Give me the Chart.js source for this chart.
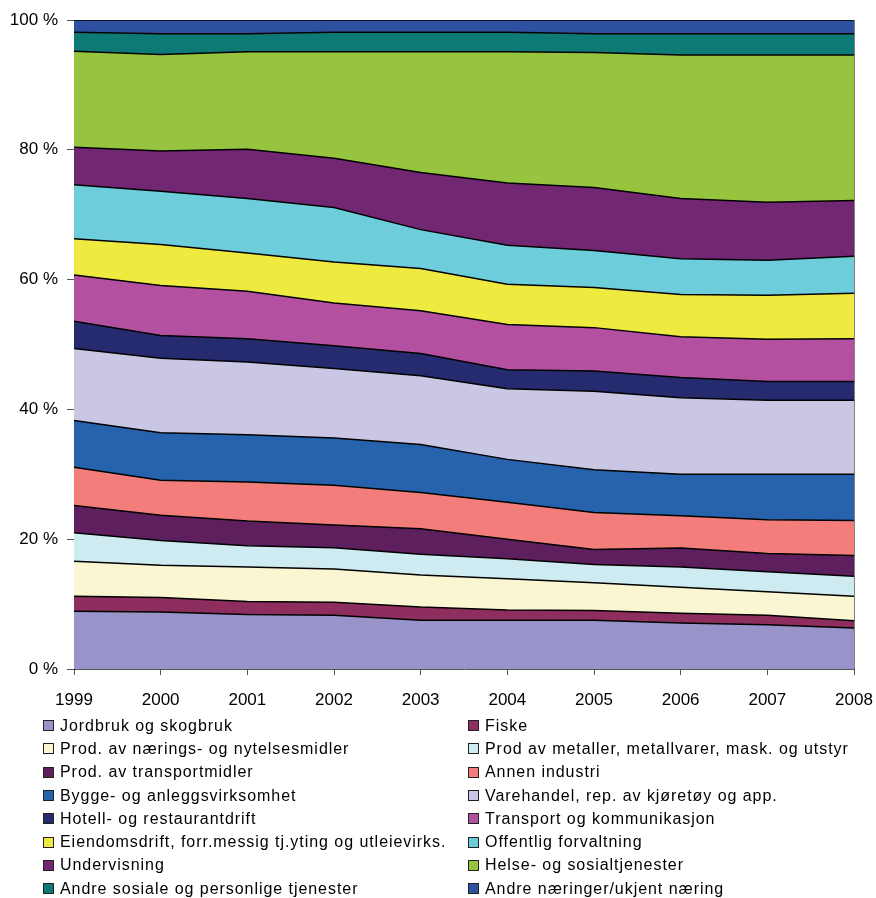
<!DOCTYPE html>
<html lang="no">
<head>
  <meta charset="UTF-8">
  <title>Sysselsatte etter næring</title>
  <style>
* {
  margin: 0;
  padding: 0;
  box-sizing: border-box;
}
body {
  background: #fff;
  font-family: "Liberation Sans", Arial, sans-serif;
  width: 876px;
  height: 898px;
  position: relative;
  overflow: hidden;
}
#myChart {
  position: absolute;
  left: 0;
  top: 0;
}
#legend {
  position: absolute;
  top: 714px;
  left: 43px;
  display: grid;
  grid-template-columns: 425px 400px;
  grid-auto-rows: 23.3px;
}
#legend div {
  display: flex;
  align-items: center;
  font-size: 16px;
  letter-spacing: 0.95px;
  color: #000;
  white-space: nowrap;
}
#legend span.box {
  width: 11px;
  height: 11px;
  border: 1px solid #222;
  margin-right: 6px;
  flex: none;
}
  </style>
</head>
<body>
  <canvas id="myChart" width="876" height="718"></canvas>
  <div id="legend"></div>
  <script src="https://cdn.jsdelivr.net/npm/chart.js@4.4.0/dist/chart.umd.min.js"></script>
  <script>
    // andeler i prosent, 1999-2008
    let years = ['1999', '2000', '2001', '2002', '2003', '2004', '2005', '2006', '2007', '2008'];
    let yTicks = [0, 20, 40, 60, 80, 100];

    let jordbruk      = [8.9, 8.8, 8.4, 8.3, 7.5, 7.5, 7.5, 7.1, 6.8, 6.3];
    let fiske         = [2.3, 2.2, 2.0, 2.0, 2.05, 1.6, 1.5, 1.5, 1.5, 1.15];
    let naeringsmidl  = [5.4, 5.0, 5.3, 5.1, 4.95, 4.8, 4.3, 4.0, 3.6, 3.75];
    let metaller      = [4.4, 3.8, 3.3, 3.3, 3.2, 3.1, 2.8, 3.1, 3.1, 3.1];
    let transportmidl = [4.2, 3.9, 3.8, 3.5, 3.9, 3.0, 2.3, 2.95, 2.8, 3.2];
    let annenInd      = [5.9, 5.4, 6.0, 6.1, 5.6, 5.7, 5.7, 4.95, 5.2, 5.4];
    let bygge         = [7.2, 7.3, 7.3, 7.3, 7.4, 6.6, 6.6, 6.4, 7.0, 7.1];
    let varehandel    = [11.1, 11.5, 11.2, 10.7, 10.6, 10.9, 12.1, 11.8, 11.4, 11.4];
    let hotell        = [4.2, 3.5, 3.6, 3.5, 3.4, 2.9, 3.1, 3.1, 2.9, 2.9];
    let transport     = [7.1, 7.7, 7.3, 6.6, 6.6, 7.0, 6.7, 6.3, 6.5, 6.6];
    let eiendom       = [5.6, 6.3, 5.9, 6.3, 6.5, 6.2, 6.2, 6.5, 6.8, 7.0];
    let offentlig     = [8.3, 8.2, 8.4, 8.4, 6.0, 6.0, 5.7, 5.5, 5.4, 5.7];
    let undervisning  = [5.8, 6.2, 7.6, 7.6, 8.8, 9.6, 9.7, 9.3, 8.9, 8.6];
    let helse         = [14.8, 14.9, 15.0, 16.4, 18.6, 20.2, 20.8, 22.1, 22.7, 22.4];
    let andreSosiale  = [2.9, 3.2, 2.8, 3.0, 3.0, 3.0, 2.9, 3.3, 3.3, 3.3];
    let andreNaering  = [1.9, 2.1, 2.1, 1.9, 1.9, 1.9, 2.1, 2.1, 2.1, 2.1];

    let series = [
      ['Jordbruk og skogbruk', jordbruk, '#9893C8'],
      ['Fiske', fiske, '#8E2E5E'],
      ['Prod. av nærings- og nytelsesmidler', naeringsmidl, '#FAF6D2'],
      ['Prod av metaller, metallvarer, mask. og utstyr', metaller, '#CDEBF0'],
      ['Prod. av transportmidler', transportmidl, '#5E1F5E'],
      ['Annen industri', annenInd, '#F27D7A'],
      ['Bygge- og anleggsvirksomhet', bygge, '#2763AC'],
      ['Varehandel, rep. av kjøretøy og app.', varehandel, '#CAC7E4'],
      ['Hotell- og restaurantdrift', hotell, '#262A6E'],
      ['Transport og kommunikasjon', transport, '#B350A0'],
      ['Eiendomsdrift, forr.messig tj.yting og utleievirks.', eiendom, '#EFEA40'],
      ['Offentlig forvaltning', offentlig, '#6DCDDB'],
      ['Undervisning', undervisning, '#722772'],
      ['Helse- og sosialtjenester', helse, '#96C43E'],
      ['Andre sosiale og personlige tjenester', andreSosiale, '#0D7A76'],
      ['Andre næringer/ukjent næring', andreNaering, '#2E50A0']
    ];

    let datasets = series.map((s, i) => ({
      label: s[0],
      data: s[1],
      backgroundColor: s[2],
      borderColor: '#000',
      borderWidth: 1.5,
      pointRadius: 0,
      tension: 0,
      fill: i === 0 ? 'origin' : '-1'
    }));

    // høyre ramme
    let frame = {
      id: 'frame',
      afterDatasetsDraw(chart) {
        let a = chart.chartArea;
        let c = chart.ctx;
        c.save();
        c.strokeStyle = '#808080';
        c.lineWidth = 1;
        c.beginPath();
        c.moveTo(a.right + 0.5, a.top);
        c.lineTo(a.right + 0.5, a.bottom);
        c.stroke();
        c.restore();
      }
    };

    let ctx = document.getElementById('myChart').getContext('2d');
    let chart = new Chart(ctx, {
      type: 'line',
      data: { labels: years, datasets: datasets },
      options: {
        responsive: false,
        animation: false,
        layout: { padding: { left: 0, right: 22, top: 20, bottom: 0 } },
        plugins: {
          legend: { display: false },
          tooltip: { enabled: false },
          filler: { drawTime: 'beforeDatasetsDraw' }
        },
        scales: {
          x: {
            offset: false,
            grid: { drawOnChartArea: false, tickLength: 6, color: '#555' },
            border: { color: '#555' },
            ticks: {
              color: '#000',
              maxRotation: 0,
              autoSkip: false,
              padding: 15,
              font: { family: 'Liberation Sans', size: 17 }
            },
            afterFit(scale) {
              scale.height = 49;
              scale.paddingLeft = 0;
              scale.paddingRight = 0;
            }
          },
          y: {
            stacked: true,
            min: 0,
            max: 100,
            grid: { drawOnChartArea: false, tickLength: 7, color: '#555' },
            border: { color: '#000' },
            afterBuildTicks(scale) { scale.ticks = yTicks.map(v => ({ value: v })); },
            ticks: {
              color: '#000',
              padding: 9,
              font: { family: 'Liberation Sans', size: 17 },
              callback: v => v + ' %'
            },
            afterFit(scale) {
              scale.width = 74;
              scale.paddingTop = 0;
              scale.paddingBottom = 0;
            }
          }
        }
      },
      plugins: [frame]
    });

    let legend = document.getElementById('legend');
    series.forEach(s => {
      legend.insertAdjacentHTML('beforeend',
        `<div><span class="box" style="background:${s[2]}"></span>${s[0]}</div>`);
    });
  </script>
</body>
</html>
